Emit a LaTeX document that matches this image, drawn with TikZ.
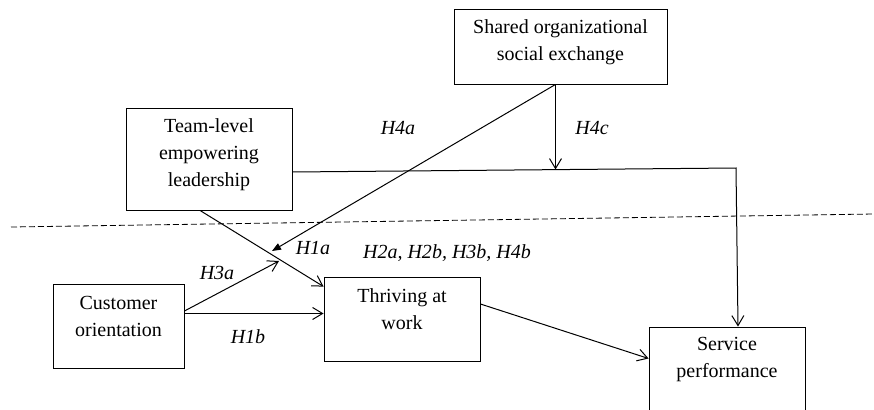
\documentclass[tikz,border=0pt]{standalone}
\usepackage{fontspec}
\setmainfont{Liberation Serif}
\usetikzlibrary{arrows.meta}

\begin{document}
\begin{tikzpicture}[x=1pt, y=-1pt,
    font=\fontsize{20}{27}\selectfont,
    box/.style={draw, line width=0.9pt, inner sep=0pt},
    txt/.style={align=center},
    hyp/.style={font=\fontsize{20}{27}\selectfont\itshape},
    arr/.style={line width=1pt, -{Straight Barb[length=10pt, width=12pt]}}]
  \useasboundingbox (0, 0) rectangle (874, 409);
  % boxes
  \node [box, minimum width=213pt, minimum height=75pt, label={[txt, yshift=4pt]center:{Shared organizational\\social exchange}}] (shared) at (560.5, 46.5) {};
  \node [box, minimum width=166pt, minimum height=102pt, label={[txt, yshift=4pt]center:{Team-level\\empowering\\leadership}}] (team) at (209, 159) {};
  \node [box, minimum width=131pt, minimum height=84pt, label={[txt, yshift=10pt]center:{Customer\\orientation}}] (cust) at (118.5, 326) {};
  \node [box, minimum width=156pt, minimum height=84pt, label={[txt, yshift=10pt]center:{Thriving at\\work}}] (thr) at (402, 319) {};
  \node [box, minimum width=156pt, minimum height=93pt, label={[txt, yshift=13.5pt]center:{Service\\performance}}] (serv) at (727, 373.5) {};

  % level separator
  \draw [line width=0.8pt, dash pattern=on 6pt off 3pt] (11, 227) -- (874, 214);

  \coordinate (bend) at (736, 168);
  \coordinate (src) at ([xshift=-5pt]shared.south);
  \coordinate (h4a) at (272, 251);
  \coordinate (h3a) at (279, 261);

  \draw [arr] ([yshift=-13pt]team.east) -- (bend) -- ([xshift=2pt]bend |- serv.north);
  \draw [arr] (src) -- ([yshift=-1.5pt]src |- bend);
  \draw [line width=1pt, -{Triangle[length=9pt, width=7pt]}] (src) -- (h4a);
  \draw [arr] ([xshift=-9pt]team.south) -- ([yshift=-10pt]thr.north west);
  \draw [arr] ([yshift=15pt]cust.east) -- (h3a);
  \draw [arr] ([yshift=12.5pt]cust.east) -- ([yshift=12.5pt]cust.east -| thr.west);
  \draw [arr] ([yshift=15pt]thr.east) -- ([yshift=15pt]serv.west);

  % hypotheses
  \node [hyp] (l4a) at (398, 128) {H4a};
  \node [hyp] (l4c) at (592, 128) {H4c};
  \node [hyp] (l1a) at (313, 248) {H1a};
  \node [hyp] (l2a) at (447, 253) {H2a, H2b, H3b, H4b};
  \node [hyp] (l3a) at (217, 273) {H3a};
  \node [hyp] (l1b) at (248, 337) {H1b};
\end{tikzpicture}
\end{document}
